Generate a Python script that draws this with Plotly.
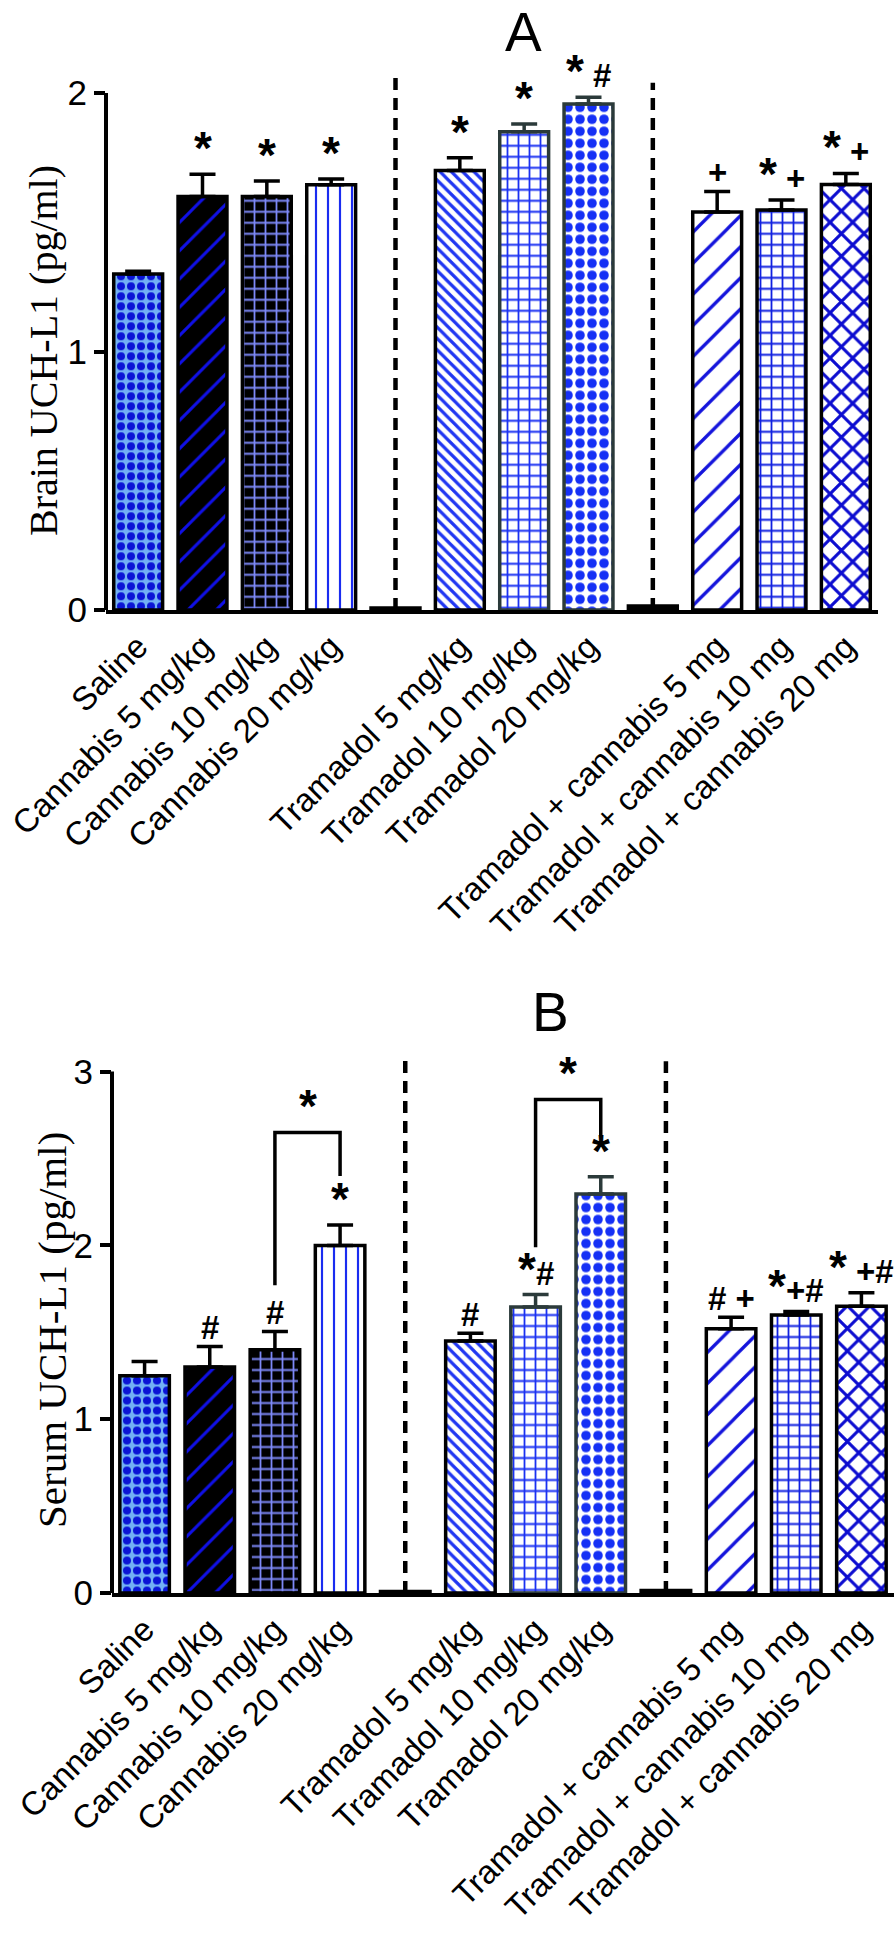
import plotly.graph_objects as go

W, H = 894, 1940

labels = ["Saline", "Cannabis 5 mg/kg", "Cannabis 10 mg/kg", "Cannabis 20 mg/kg", "",
          "Tramadol 5 mg/kg", "Tramadol 10 mg/kg", "Tramadol 20 mg/kg", "",
          "Tramadol + cannabis 5 mg", "Tramadol + cannabis 10 mg", "Tramadol + cannabis 20 mg"]

brain_mean = [1.30, 1.60, 1.60, 1.645, 0.008, 1.70, 1.85, 1.957, 0.015, 1.54, 1.547, 1.646]
brain_sem = [0.01, 0.086, 0.06, 0.022, 0, 0.05, 0.03, 0.027, 0, 0.079, 0.039, 0.043]
brain_marks = ["", "*", "*", "*", "", "*", "*", "* #", "", "+", "* +", "* +"]

serum_mean = [1.25, 1.30, 1.40, 2.00, 0.008, 1.45, 1.645, 2.296, 0.015, 1.52, 1.60, 1.65]
serum_sem = [0.082, 0.119, 0.105, 0.117, 0, 0.045, 0.072, 0.099, 0, 0.066, 0.019, 0.078]
serum_marks = ["", "#", "#", "*", "", "#", "*#", "*", "", "# +", "*+#", "* +#"]

# bracket comparisons in panel B: (left bar, right bar, left foot, right foot, top)
serum_brackets = [(2, 3, 1.77, 2.40, 2.65), (6, 7, 1.99, 2.63, 2.84)]

# per-bar fill styles
shapes = [".", "/", "+", "|", "", "\\", "+", ".", "", "/", "+", "x"]
fgs = ["#0a14d6", "#1010e6", "#7d88f7", "#1a2cf0", "#000000", "#2036f2", "#1a30f2", "#1530f5",
       "#000000", "#1414dc", "#1020e0", "#0c0cd0"]
bgs = ["#72b2f4", "#000000", "#000000", "#ffffff", "#ffffff", "#ffffff", "#ffffff", "#ffffff",
       "#000000", "#ffffff", "#ffffff", "#ffffff"]
psize = [10, 20, 11, 12, 8, 8, 11, 12, 8, 22, 11, 16]
psolid = [0.5, 0.15, 0.3, 0.18, 0.3, 0.4, 0.3, 0.5, 0.3, 0.15, 0.3, 0.35]
edges = ["black", "black", "black", "black", "black", "black", "#2b3a3a", "#2b3a3a",
         "black", "black", "black", "black"]

SANS = "Arial, Liberation Sans, sans-serif"
SERIF = "Times New Roman, Liberation Serif, serif"
STAR = "<span style='font-size:46px'>*</span>"


def mark_html(s):
    return s.replace("*", STAR)


panels = [
    dict(mean=brain_mean, sem=brain_sem, marks=brain_marks, brackets=[],
         xpx=(106, 878), zero=610, unit=258.5, top=2.2, ymax=2, dash_tops=[2.07, 2.04],
         title="A", title_xy=(523, 0), ylab="Brain UCH-L1 (pg/ml)", ylab_xy=(43, 351), ylab_size=40),
    dict(mean=serum_mean, sem=serum_sem, marks=serum_marks, brackets=serum_brackets,
         xpx=(112, 894), zero=1593, unit=173.8, top=3.15, ymax=3, dash_tops=[3.10, 3.06],
         title="B", title_xy=(550, 980), ylab="Serum UCH-L1 (pg/ml)", ylab_xy=(52, 1330), ylab_size=41),
]

fig = go.Figure()
n = len(labels)
gaps = [i for i, lab in enumerate(labels) if lab == ""]

for k, p in enumerate(panels):
    xa = "x" if k == 0 else "x2"
    ya = "y" if k == 0 else "y2"
    for i in range(n):
        fig.add_trace(go.Bar(
            x=[i], y=[p["mean"][i]], width=0.76, xaxis=xa, yaxis=ya, showlegend=False,
            marker=dict(color=bgs[i], line=dict(color=edges[i], width=3.5),
                        pattern=dict(shape=shapes[i], fgcolor=fgs[i], bgcolor=bgs[i],
                                     size=psize[i], solidity=psolid[i], fillmode="replace")),
            error_y=dict(type="data", array=[p["sem"][i]], arrayminus=[0], symmetric=False,
                         visible=p["sem"][i] > 0, color=edges[i], thickness=3.5, width=13),
        ))
        if p["marks"][i]:
            fig.add_annotation(x=i, y=p["mean"][i] + p["sem"][i], xref=xa, yref=ya,
                               text=mark_html(p["marks"][i]), showarrow=False, yanchor="bottom",
                               yshift=-2,
                               font=dict(family=SANS, size=33, color="black", weight="bold"))
    for g, t in zip(gaps, p["dash_tops"]):
        fig.add_shape(type="line", xref=xa, yref=ya, x0=g, x1=g, y0=0, y1=t,
                      line=dict(color="black", width=4.5, dash="12px,8px"))
    for a, b, ya0, yb0, yt in p["brackets"]:
        fig.add_shape(type="path", xref=xa, yref=ya,
                      path=f"M {a},{ya0} L {a},{yt} L {b},{yt} L {b},{yb0}",
                      line=dict(color="black", width=3.5))
        fig.add_annotation(x=(a + b) / 2, y=yt, xref=xa, yref=ya, text=STAR, showarrow=False,
                           yanchor="bottom", yshift=-2,
                           font=dict(family=SANS, size=33, color="black", weight="bold"))
    # y axis line stops at the top tick
    fig.add_shape(type="line", xref=xa + " domain", yref=ya, x0=0, x1=0, y0=0, y1=p["ymax"],
                  line=dict(color="black", width=4))
    fig.add_annotation(x=p["title_xy"][0] / W, y=1 - p["title_xy"][1] / H, xref="paper", yref="paper",
                       text=p["title"], showarrow=False, xanchor="center", yanchor="top",
                       borderpad=0, font=dict(family=SANS, size=55, color="black"))
    fig.add_annotation(x=p["ylab_xy"][0] / W, y=1 - p["ylab_xy"][1] / H, xref="paper", yref="paper",
                       text=p["ylab"], showarrow=False, textangle=-90, xanchor="center", yanchor="middle",
                       font=dict(family=SERIF, size=p["ylab_size"], color="black"))

    top_px = p["zero"] - p["top"] * p["unit"]
    xaxis = dict(domain=[p["xpx"][0] / W, p["xpx"][1] / W], range=[-0.5, n - 0.5],
                 tickvals=list(range(n)), ticktext=labels, tickangle=-45, ticks="",
                 tickfont=dict(family=SANS, size=33, color="black"),
                 showline=True, linecolor="black", linewidth=4, showgrid=False, zeroline=False,
                 automargin=False, anchor=ya)
    yaxis = dict(domain=[1 - p["zero"] / H, 1 - top_px / H], range=[0, p["top"]],
                 tickvals=list(range(p["ymax"] + 1)), ticks="outside", ticklen=11, tickwidth=4,
                 tickcolor="black", tickfont=dict(family=SANS, size=35, color="black"),
                 showline=False, showgrid=False, zeroline=False, automargin=False, anchor=xa)
    if k == 0:
        fig.update_layout(xaxis=xaxis, yaxis=yaxis)
    else:
        fig.update_layout(xaxis2=xaxis, yaxis2=yaxis)

fig.update_layout(width=W, height=H, margin=dict(l=0, r=0, t=0, b=0), barmode="overlay",
                  plot_bgcolor="white", paper_bgcolor="white")

fig.write_html("out.html", config={"displayModeBar": False},
               post_script="document.body.style.margin='0px';")
